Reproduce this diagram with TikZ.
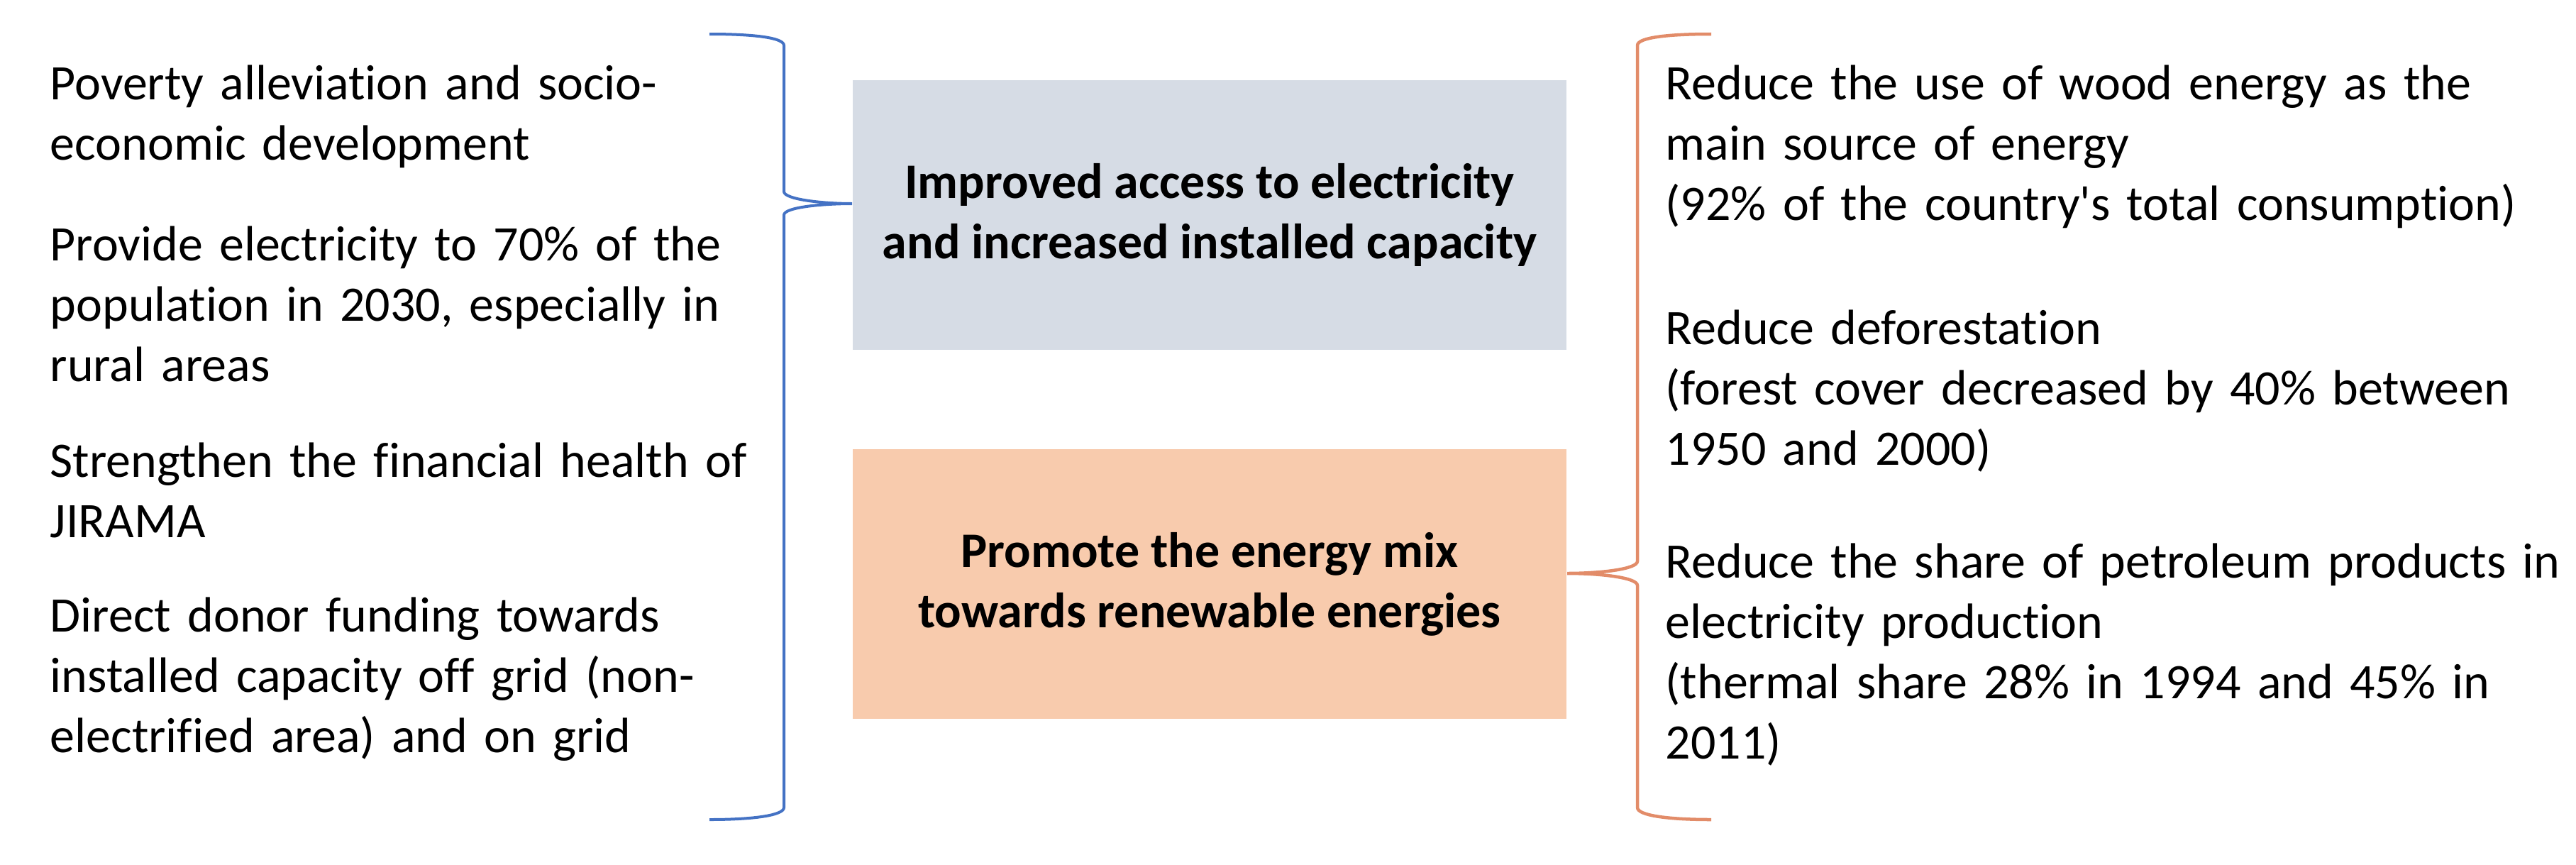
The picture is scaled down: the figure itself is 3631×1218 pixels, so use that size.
\documentclass[tikz,border=0pt]{standalone}
\usepackage{fontspec}
\setmainfont{Carlito}[Ligatures={TeXOff,NoCommon}]
\definecolor{boxgray}{HTML}{D6DCE5}
\definecolor{boxorange}{HTML}{F8CBAD}
\definecolor{braceblue}{HTML}{4472C4}
\definecolor{braceorange}{HTML}{E28C69}
\begin{document}
\begin{tikzpicture}[x=0.01cm,y=-0.01cm,
  txt/.style={anchor=base west,inner sep=0pt,text width=11cm,align=left,
    font=\fontsize{19.9}{24.2}\selectfont},
  goalbox/.style={minimum width=10.06cm,minimum height=3.8cm,inner sep=0pt,align=center,
    font=\fontsize{19.9}{24.2}\selectfont\bfseries},
  bracel/.style={draw=braceblue,line width=0.04cm},
  bracer/.style={draw=braceorange,line width=0.045cm}]
\useasboundingbox (0,0) rectangle (3631,1218);
% boxes
\node[goalbox,fill=boxgray] (access) at (1705,303) {Improved access to electricity\\and increased installed capacity};
\node[goalbox,fill=boxorange] (mix) at (1705,823) {Promote the energy mix\\towards renewable energies};
% left texts
\node[txt] (l1) at (70,140) {Poverty alleviation and socio-\\economic development};
\node[txt] (l2) at (70,367) {Provide electricity to 70\% of the\\population in 2030, especially in\\rural areas};
\node[txt] (l3) at (70,672) {Strengthen the financial health of\\JIRAMA};
\node[txt] (l4) at (70,890) {Direct donor funding towards\\installed capacity off grid (non-\\electrified area) and on grid};
% right texts
\node[txt,text width=13cm] (r1) at (2347,140) {Reduce the use of wood energy as the\\main source of energy\\(92\% of the country's total consumption)};
\node[txt,text width=13cm] (r2) at (2347,485) {Reduce deforestation\\(forest cover decreased by 40\% between\\1950 and 2000)};
\node[txt,text width=13cm] (r3) at (2347,814) {Reduce the share of petroleum products in\\electricity production\\(thermal share 28\% in 1994 and 45\% in\\2011)};
% brace coordinates
\coordinate (lt) at (1000,48);
\coordinate (lb) at (1000,1155);
\coordinate (tipL) at (access.west |- 0,287);
\coordinate (rt) at (2412,48);
\coordinate (rb) at (2412,1155);
\coordinate (tipR) at (mix.east |- 0,808);
% left brace
\draw[bracel] (lt) .. controls (1062,48) and (1105,53) .. (1105,64)
  -- (1105,270) .. controls (1105,281) and (1160,287) .. (tipL)
  .. controls (1160,287) and (1105,292) .. (1105,303)
  -- (1105,1138) .. controls (1105,1149) and (1062,1155) .. (lb);
% right brace
\draw[bracer] (rt) .. controls (2350,48) and (2308,53) .. (2308,64)
  -- (2308,791) .. controls (2308,802) and (2256,808) .. (tipR)
  .. controls (2256,808) and (2308,814) .. (2308,825)
  -- (2308,1138) .. controls (2308,1149) and (2350,1155) .. (rb);
\end{tikzpicture}
\end{document}
